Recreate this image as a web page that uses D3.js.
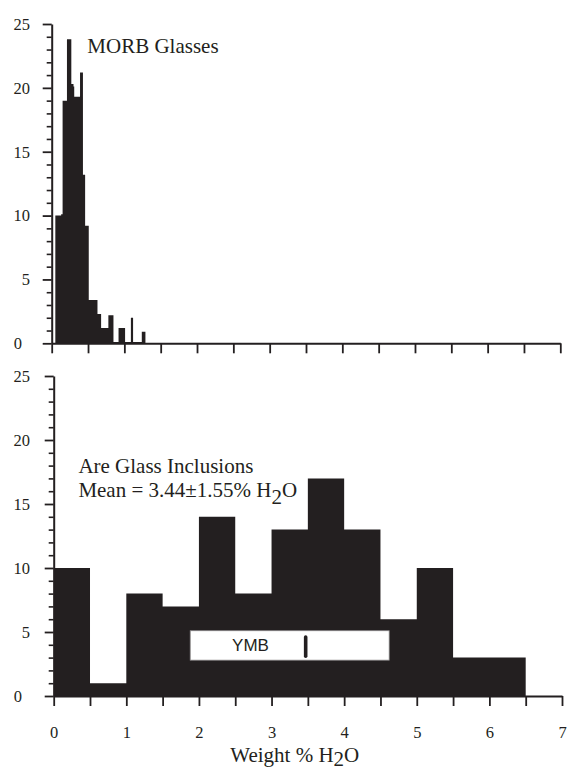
<!DOCTYPE html>
<html lang="en">
  <head>
    <meta charset="UTF-8" />
    <title>H2O histograms</title>
    <script src="https://cdn.jsdelivr.net/npm/d3@7"></script>
    <style>
      body { margin: 0; background: #fff; }
      .serif { font-family: "Liberation Serif", "Times New Roman", serif; }
    </style>
  </head>
  <body>
    <script>
      // ---- data ----
      // MORB glasses (top): uneven bin edges in wt% H2O and counts
      let morbEdges = [0.05, 0.13, 0.15, 0.21, 0.27, 0.30, 0.31, 0.39, 0.43, 0.46, 0.51,
                       0.63, 0.68, 0.78, 0.85, 0.92, 1.01, 1.09, 1.12, 1.24, 1.29];
      let morbCounts = [10, 10.1, 19, 23.8, 20.3, 20.1, 19.3, 21.2, 13.2, 9.2,
                        3.4, 2.3, 1.2, 2.2, 0.1, 1.2, 0.1, 2, 0.1, 0.9];

      // arc glass inclusions (bottom): 0.5 wt% bins
      let arcEdges = [0, 0.5, 1, 1.5, 2, 2.5, 3, 3.5, 4, 4.5, 5, 5.5, 6, 6.5];
      let arcCounts = [10, 1, 8, 7, 14, 8, 13, 17, 13, 6, 10, 3, 3];

      // YMB range box and its marker
      let ymbRange = [1.88, 4.62];
      let ymbBand = [2.8, 5.1];
      let ymbMark = 3.47;
      let ymbMarkSpan = [3.1, 4.6];

      // axis ticks
      let yMajor = [0, 5, 10, 15, 20, 25];
      let yMinor = [1, 2, 3, 4, 6, 7, 8, 9, 11, 12, 13, 14, 16, 17, 18, 19, 21, 22, 23, 24];
      let xTicks = [0, 0.5, 1, 1.5, 2, 2.5, 3, 3.5, 4, 4.5, 5, 5.5, 6, 6.5, 7];

      let ink = "#231f20";
      let serif = "'Liberation Serif', 'Times New Roman', serif";
      let svg = d3.select("body").append("svg").attr("width", 567).attr("height", 771);

      // scales, one pair per panel
      let xTop = d3.scaleLinear().domain([0, 7]).range([51.7, 560.3]);
      let yTop = d3.scaleLinear().domain([0, 25]).range([343.3, 24]);
      let xBot = d3.scaleLinear().domain([0, 7]).range([53.7, 562]);
      let yBot = d3.scaleLinear().domain([0, 25]).range([696, 376]);

      function stepHist(edges, counts, x, y) {
        let pts = counts.map((c, i) => [edges[i], c]);
        pts.push([edges[edges.length - 1], counts[counts.length - 1]]);
        let area = d3.area()
          .x(d => x(d[0]))
          .y0(y(0))
          .y1(d => y(d[1]))
          .curve(d3.curveStepAfter);
        svg.append("path").datum(pts).attr("d", area).attr("fill", ink);
      }

      function styleText(g) {
        g.selectAll(".tick text")
          .style("font-family", serif)
          .style("font-size", "16.5px")
          .attr("fill", ink);
      }

      function drawAxes(x, y, showX) {
        let x0 = x(0);
        // minor y ticks
        svg.append("g")
          .attr("transform", "translate(" + x0 + ",0)")
          .attr("color", ink)
          .call(d3.axisLeft(y).tickValues(yMinor).tickSize(5).tickFormat(""))
          .call(g => g.select(".domain").remove())
          .call(g => g.selectAll("line").attr("stroke-width", 1.6));
        // major y ticks + labels
        let ya = svg.append("g")
          .attr("transform", "translate(" + x0 + ",0)")
          .attr("color", ink)
          .call(d3.axisLeft(y).tickValues(yMajor).tickSize(9).tickSizeOuter(0).tickPadding(x0 - 39));
        styleText(ya);
        ya.select(".domain").attr("stroke-width", 2);
        ya.selectAll("line").attr("stroke-width", 1.8);
        ya.selectAll(".tick text").filter(d => d === 0).attr("dx", -8);
        // x axis
        let xa = svg.append("g")
          .attr("transform", "translate(0," + y(0) + ")")
          .attr("color", ink)
          .call(d3.axisBottom(x).tickValues(xTicks).tickSize(10).tickSizeOuter(0).tickPadding(20.6)
            .tickFormat(d => (showX && Number.isInteger(d)) ? d : ""));
        styleText(xa);
        xa.select(".domain").attr("stroke-width", 2);
        xa.selectAll("line").attr("stroke-width", 1.8);
      }

      // top panel
      stepHist(morbEdges, morbCounts, xTop, yTop);
      drawAxes(xTop, yTop, false);
      svg.append("text").attr("class", "serif")
        .attr("x", xTop(0.49)).attr("y", yTop(22.7))
        .attr("font-size", 21).attr("fill", ink)
        .text("MORB Glasses");

      // bottom panel
      stepHist(arcEdges, arcCounts, xBot, yBot);

      svg.append("rect")
        .attr("x", xBot(ymbRange[0]))
        .attr("y", yBot(ymbBand[1]))
        .attr("width", xBot(ymbRange[1]) - xBot(ymbRange[0]))
        .attr("height", yBot(ymbBand[0]) - yBot(ymbBand[1]))
        .attr("fill", "#fff")
        .attr("stroke", "#8a8788")
        .attr("stroke-width", 0.8);
      svg.append("line")
        .attr("x1", xBot(ymbMark)).attr("x2", xBot(ymbMark))
        .attr("y1", yBot(ymbMarkSpan[0])).attr("y2", yBot(ymbMarkSpan[1]))
        .attr("stroke", ink).attr("stroke-width", 3.6).attr("stroke-linecap", "round");
      svg.append("text")
        .attr("x", xBot(2.71)).attr("y", yBot(3.53))
        .attr("text-anchor", "middle")
        .attr("font-family", "'Liberation Sans', Arial, sans-serif")
        .attr("font-size", 17).attr("fill", ink)
        .text("YMB");

      drawAxes(xBot, yBot, true);

      // annotation
      let lx = xBot(0.34), ly = yBot(17.4);
      let note = svg.append("text").attr("class", "serif")
        .attr("font-size", 21).attr("fill", ink);
      note.append("tspan").attr("x", lx).attr("y", ly).text("Are Glass Inclusions");
      note.append("tspan").attr("x", lx).attr("y", ly + 23.4).text("Mean = 3.44\u00b11.55% H");
      note.append("tspan").attr("dy", 7).text("2");
      note.append("tspan").attr("dy", -7).text("O");

      // x axis title (sits at the very bottom edge)
      let xt = svg.append("text").attr("class", "serif")
        .attr("x", xBot(3.32)).attr("y", 762)
        .attr("text-anchor", "middle")
        .attr("font-size", 21).attr("fill", ink);
      xt.append("tspan").text("Weight % H");
      xt.append("tspan").attr("dy", 4).text("2");
      xt.append("tspan").attr("dy", -4).text("O");
    </script>
  </body>
</html>
